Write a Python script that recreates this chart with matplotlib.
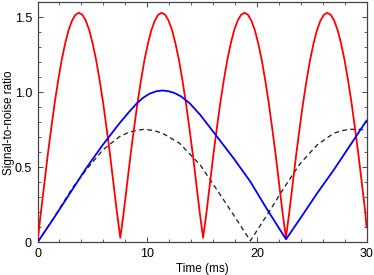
import matplotlib
matplotlib.use("Agg")
import matplotlib.pyplot as plt
from matplotlib.ticker import MultipleLocator

plt.rcParams['font.family'] = ['Liberation Sans', 'DejaVu Sans']

# red curve: fast arches (time in ms, SNR)
red_t = [0.00, 0.31, 0.63, 0.94, 1.26, 1.57, 1.89, 2.20, 2.52, 2.83, 3.15, 3.46,
         3.78, 4.09, 4.40, 4.72, 5.03, 5.35, 5.66, 5.98, 6.29, 6.61, 6.92, 7.24,
         7.55, 7.86, 8.18, 8.49, 8.81, 9.12, 9.44, 9.75, 10.07, 10.38, 10.70, 11.01,
         11.33, 11.64, 11.95, 12.27, 12.58, 12.90, 13.21, 13.53, 13.84, 14.16, 14.47, 14.79,
         15.10, 15.41, 15.73, 16.04, 16.36, 16.67, 16.99, 17.30, 17.62, 17.93, 18.25, 18.56,
         18.88, 19.19, 19.50, 19.82, 20.13, 20.45, 20.76, 21.08, 21.39, 21.71, 22.02, 22.34,
         22.65, 22.96, 23.28, 23.59, 23.91, 24.22, 24.54, 24.85, 25.17, 25.48, 25.80, 26.11,
         26.43, 26.74, 27.05, 27.37, 27.68, 28.00, 28.31, 28.63, 28.94, 29.26, 29.57, 29.89,
         30.00]
red_v = [0.00, 0.200, 0.396, 0.586, 0.765, 0.931, 1.082, 1.214, 1.325, 1.414, 1.478, 1.517,
         1.53, 1.517, 1.478, 1.414, 1.325, 1.214, 1.082, 0.931, 0.765, 0.586, 0.396, 0.200,
         0.03, 0.200, 0.396, 0.586, 0.765, 0.931, 1.082, 1.214, 1.325, 1.414, 1.478, 1.517,
         1.53, 1.517, 1.478, 1.414, 1.325, 1.214, 1.082, 0.931, 0.765, 0.586, 0.396, 0.200,
         0.03, 0.200, 0.396, 0.586, 0.765, 0.931, 1.082, 1.214, 1.325, 1.414, 1.478, 1.517,
         1.53, 1.517, 1.478, 1.414, 1.325, 1.214, 1.082, 0.931, 0.765, 0.586, 0.396, 0.200,
         0.03, 0.200, 0.396, 0.586, 0.765, 0.931, 1.082, 1.214, 1.325, 1.414, 1.478, 1.517,
         1.53, 1.517, 1.478, 1.414, 1.325, 1.214, 1.082, 0.931, 0.765, 0.586, 0.396, 0.200,
         0.10]

# blue curve: single slow arch
blue_t = [0.0, 1.39, 2.9, 4.43, 5.95, 7.47, 8.3, 9.0, 9.6, 10.2, 10.8, 11.37, 11.9, 12.5, 13.1,
          13.9, 14.84, 16.37, 17.88, 19.41, 20.93, 22.66, 23.97, 25.5, 27.01, 28.54, 30.0]
blue_v = [0.0, 0.15, 0.32, 0.493, 0.649, 0.793, 0.865, 0.922, 0.962, 0.99, 1.006, 1.012, 1.008, 0.995, 0.972,
          0.925, 0.849, 0.704, 0.56, 0.404, 0.22, 0.02, 0.16, 0.327, 0.482, 0.65, 0.811]

# dashed curve
dash_t = [0.0, 1.5, 3.21, 4.43, 5.95, 7.47, 8.3, 9.0, 9.76, 10.6, 11.43, 12.95, 14.84, 16.37, 17.88, 19.41,
          20.93, 22.45, 23.97, 25.5, 27.01, 27.8, 28.54, 29.3, 30.0]
dash_v = [0.0, 0.165, 0.365, 0.482, 0.615, 0.704, 0.732, 0.746, 0.753, 0.745, 0.726, 0.66, 0.515, 0.349, 0.182, 0.01,
          0.182, 0.36, 0.527, 0.649, 0.727, 0.745, 0.753, 0.753, 0.749]

fig = plt.figure(figsize=(3.74, 2.75), dpi=100)
ax = fig.add_axes([0.1003, 0.119, 0.8797, 0.8727])

ax.plot(red_t, red_v, color='#ff0000', lw=1.3, zorder=3)
ax.plot(blue_t, blue_v, color='#0000ff', lw=1.3, zorder=4)
ax.plot(dash_t, dash_v, color='#222222', lw=0.95, dashes=(3.6, 2.6), zorder=2)

ax.set_xlim(0, 30)
ax.set_ylim(0, 1.6)
ax.xaxis.set_major_locator(MultipleLocator(10))
ax.xaxis.set_minor_locator(MultipleLocator(2))
ax.yaxis.set_minor_locator(MultipleLocator(0.1))
ax.set_yticks([0, 0.5, 1.0, 1.5])
ax.set_yticklabels(['0', '0.5', '1.0', '1.5'])

for s in ax.spines.values():
    s.set_color('#444444')
    s.set_linewidth(0.9)
ax.tick_params(which='both', direction='in', top=True, right=True, colors='#444444',
               labelcolor='black', labelsize=9)
ax.tick_params(which='major', length=3.5, width=0.7, pad=4)
ax.tick_params(which='minor', length=2, width=0.6)

ax.set_xlabel('Time (ms)', fontsize=8.5, labelpad=2)
ax.set_ylabel('Signal-to-noise ratio', fontsize=8.5, va='center')
ax.yaxis.set_label_coords(-0.088, 0.5)

fig.savefig('out.png', dpi=100)
